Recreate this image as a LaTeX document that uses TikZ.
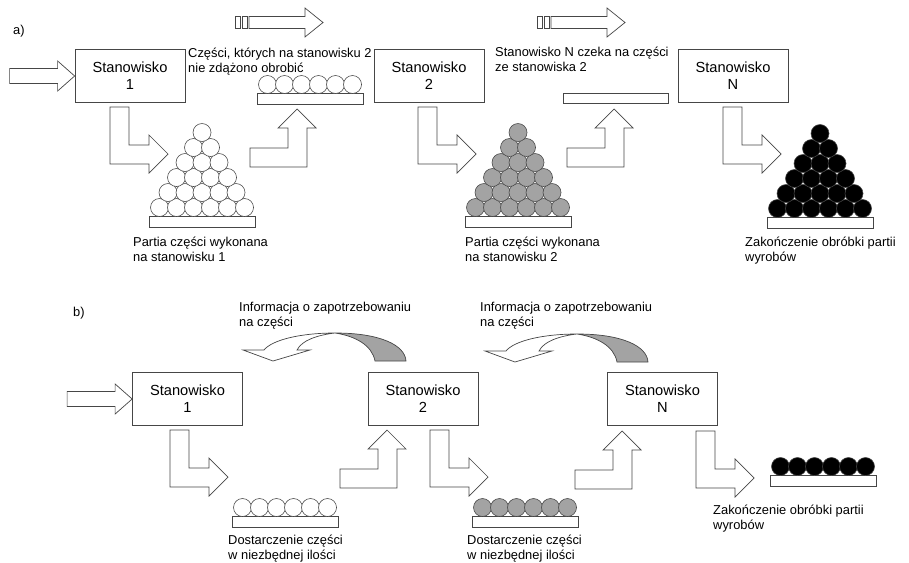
\documentclass[tikz,border=0pt]{standalone}
\usepackage{fontspec}
\setmainfont{Liberation Sans}
\usepackage{tikz}
\usetikzlibrary{positioning}

\definecolor{edge}{RGB}{70,70,70}
\definecolor{partgray}{RGB}{163,163,163}

\tikzset{
  station/.style={draw=edge, line width=.6pt, minimum width=3.3cm, minimum height=1.59cm,
    inner sep=0pt, align=center, font=\fontsize{12.5}{14.5}\selectfont},
  caption/.style={anchor=north west, align=left, inner sep=0pt, font=\fontsize{11}{12.5}\selectfont},
  blockarrow/.style={draw=edge, line width=.6pt, fill=white, line join=miter},
  part/.style={draw=edge, line width=.5pt},
  elbowdown/.pic={\draw[blockarrow] (0,0) -- (19,0) -- (19,38) -- (39,38) -- (39,28) -- (58,47)
    -- (39,66) -- (39,57) -- (0,57) -- cycle;},
  elbowup/.pic={\draw[blockarrow] (0,0) -- (0,-19) -- (38,-19) -- (38,-39) -- (28,-39) -- (47,-58)
    -- (66,-39) -- (57,-39) -- (57,0) -- cycle;},
  inarrow/.pic={\draw[blockarrow] (0,0) -- (-17,-15) -- (-17,-7.5) -- (-65,-7.5) -- (-65,7.5)
    -- (-17,7.5) -- (-17,15) -- cycle;},
  waitarrow/.pic={\draw[blockarrow] (0,-6) rectangle (5,6) (7,-6) rectangle (12,6);
    \draw[blockarrow] (14,-6) -- (70,-6) -- (70,-14.5) -- (88,0) -- (70,14.5) -- (70,6) -- (14,6) -- cycle;},
  infoarrow/.pic={\draw[blockarrow, fill=partgray] (0,0) .. controls (45,0) and (70,12) .. (71,28)
    -- (40,28) .. controls (37,12) and (20,3) .. (0,0) -- cycle;
    \draw[blockarrow] (0,0) .. controls (-35,0) and (-63,7) .. (-71,17) -- (-92,17) -- (-62,28)
    -- (-25,17) -- (-38,17) .. controls (-33,7) and (-17,2) .. (0,0) -- cycle;}
}

% bar with rows of parts: x, y of bar, fill, rows
\newcommand{\partstack}[4]{%
  \draw[part, fill=white] (#1,#2) rectangle ++(106,11);
  \foreach \r in {1,...,#4}{%
    \pgfmathtruncatemacro{\n}{7-\r}%
    \foreach \i in {1,...,\n}
      \draw[part, fill=#3] (#1+2+8.5*\r+17*\i-17, #2+6.5-15*\r) circle[radius=.27cm];
  }}

\begin{document}
\begin{tikzpicture}[x=0.03cm, y=-0.03cm]
\useasboundingbox (0,0) rectangle (909,562);

% a)
\node[caption] (lbla) at (13,25) {a)};
\node[station] (st1a) at (130,76) {Stanowisko\\1};
\node[station] (st2a) at (429,76) {Stanowisko\\2};
\node[station] (stNa) at (733,76) {Stanowisko\\N};
\pic at (st1a.west) {inarrow};
\pic at (235,22.5) {waitarrow};
\pic at (537,22.5) {waitarrow};
\pic at (110,107) {elbowdown};
\pic at (418,107) {elbowdown};
\pic at (723,107) {elbowdown};
\pic at (250,167) {elbowup};
\pic at (567,167) {elbowup};
\partstack{149}{216}{white}{6}
\partstack{465}{216}{partgray}{6}
\partstack{767}{217}{black}{6}
\partstack{257}{93}{white}{1}
\draw[part, fill=white] (563,93) rectangle ++(105,10);
\node[caption] (latea) at (188,48) {Części, których na stanowisku 2\\nie zdążono obrobić};
\node[caption] (waita) at (495,47) {Stanowisko N czeka na części\\ze stanowiska 2};
\node[caption] (batch1a) at (133,237) {Partia części wykonana\\na stanowisku 1};
\node[caption] (batch2a) at (465,237) {Partia części wykonana\\na stanowisku 2};
\node[caption] (enda) at (745,237) {Zakończenie obróbki partii\\wyrobów};

% b)
\node[caption] (lblb) at (73,307) {b)};
\node[station] (st1b) at (187.5,399) {Stanowisko\\1};
\node[station] (st2b) at (423,399) {Stanowisko\\2};
\node[station] (stNb) at (662.5,399) {Stanowisko\\N};
\pic at (st1b.west) {inarrow};
\pic at (335,333) {infoarrow};
\pic at (577,334) {infoarrow};
\pic at (170,430) {elbowdown};
\pic at (430,430) {elbowdown};
\pic at (696,431) {elbowdown};
\pic at (340,488) {elbowup};
\pic at (575,489) {elbowup};
\partstack{232}{516}{white}{1}
\partstack{472}{516}{partgray}{1}
\partstack{770}{475}{black}{1}
\node[caption] (info1b) at (239,302) {Informacja o zapotrzebowaniu\\na części};
\node[caption] (info2b) at (480,302) {Informacja o zapotrzebowaniu\\na części};
\node[caption] (supply1b) at (228,535) {Dostarczenie części\\w niezbędnej ilości};
\node[caption] (supply2b) at (467,535) {Dostarczenie części\\w niezbędnej ilości};
\node[caption] (endb) at (713,505) {Zakończenie obróbki partii\\wyrobów};
\end{tikzpicture}
\end{document}
